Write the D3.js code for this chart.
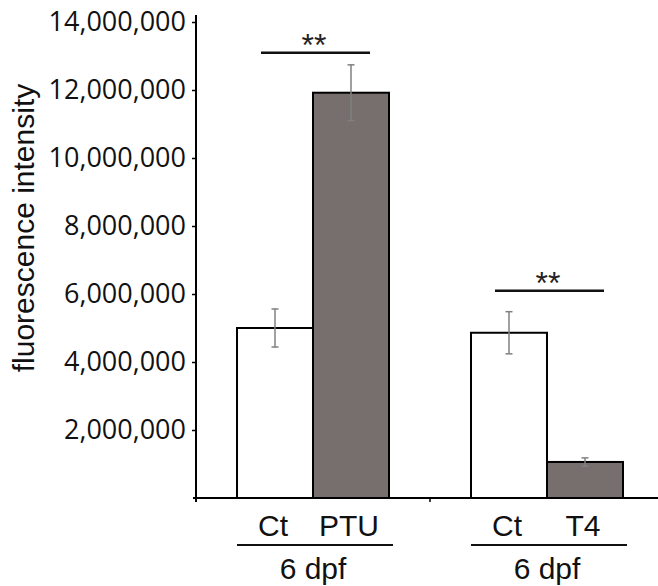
<!DOCTYPE html>
<html>
<head>
<meta charset="utf-8">
<script src="https://cdn.jsdelivr.net/npm/d3@7"></script>
<style>
  html, body { margin: 0; padding: 0; background: #fff; }
  svg { display: block; }
</style>
</head>
<body>
<svg id="chart" width="658" height="586"></svg>
<script>
// Fluorescence intensity at 6 dpf: PTU treatment and T4 treatment vs. controls
const groups = ["6 dpf (PTU)", "6 dpf (T4)"];
const groupLabels = ["6 dpf", "6 dpf"];
const conditions = [["Ct", "PTU"], ["Ct", "T4"]];
const means = [[5000000, 11920000], [4860000, 1060000]];
const errors = [[560000, 820000], [620000, 120000]];
const significance = ["**", "**"];
const yTicks = [2000000, 4000000, 6000000, 8000000, 10000000, 12000000, 14000000];

const svg = d3.select("#chart");

const y = d3.scaleLinear().domain([0, 14000000]).range([498, 22]);
const xGroup = d3.scaleBand().domain(groups).range([196, 664]);
const barW = 76;

const fillColors = ["#ffffff", "#776e6e"];

// y axis
const yAxis = d3.axisLeft(y)
  .tickValues(yTicks)
  .tickFormat(d3.format(","))
  .tickSize(4)
  .tickPadding(6);
const gy = svg.append("g").attr("transform", "translate(196,0)").call(yAxis);
gy.select(".domain").remove();
gy.selectAll(".tick line").attr("stroke", "#000").attr("stroke-width", 1.5);
gy.selectAll(".tick text")
  .attr("font-family", "'Open Sans', 'Noto Sans', sans-serif")
  .attr("font-size", 27)
  .attr("fill", "#111")
  .attr("dy", "0.3em");
svg.append("line")
  .attr("x1", 196).attr("x2", 196)
  .attr("y1", 15).attr("y2", y(0) + 4)
  .attr("stroke", "#000").attr("stroke-width", 2);

// y axis title
svg.append("text")
  .attr("transform", "translate(34," + 228 + ") rotate(-90)")
  .attr("text-anchor", "middle")
  .attr("font-family", "'Liberation Sans', Arial, sans-serif")
  .attr("font-size", 30)
  .attr("fill", "#111")
  .text("fluorescence intensity");

// groups of bars
groups.forEach((g, gi) => {
  const cx = xGroup(g) + xGroup.bandwidth() / 2;
  const xb = d3.scaleBand().domain(conditions[gi]).range([cx - barW, cx + barW]);
  const grp = svg.append("g");

  conditions[gi].forEach((c, ci) => {
    const x0 = xb(c);
    const bc = x0 + xb.bandwidth() / 2;
    const v = means[gi][ci];
    const e = errors[gi][ci];
    grp.append("rect")
      .attr("x", x0).attr("y", y(v))
      .attr("width", xb.bandwidth()).attr("height", y(0) - y(v))
      .attr("fill", fillColors[ci])
      .attr("stroke", "#000").attr("stroke-width", 2);
    // error bar
    grp.append("line")
      .attr("x1", bc).attr("x2", bc)
      .attr("y1", y(v + e)).attr("y2", y(v - e))
      .attr("stroke", "#808080").attr("stroke-width", 1.5);
    [v + e, v - e].forEach(t => {
      grp.append("line")
        .attr("x1", bc - 3.5).attr("x2", bc + 3.5)
        .attr("y1", y(t)).attr("y2", y(t))
        .attr("stroke", "#808080").attr("stroke-width", 1.5);
    });
    // condition label
    grp.append("text")
      .attr("x", bc - 2).attr("y", 536)
      .attr("text-anchor", "middle")
      .attr("font-family", "'Liberation Sans', Arial, sans-serif")
      .attr("font-size", 30)
      .attr("fill", "#111")
      .text(c);
  });

  // significance bracket
  const topVal = d3.max(means[gi].map((m, i) => m + errors[gi][i]));
  const sy = gi === 0 ? y(topVal) - 12 : y(topVal) - 21;
  grp.append("line")
    .attr("x1", cx - 52).attr("x2", cx + 57)
    .attr("y1", sy).attr("y2", sy)
    .attr("stroke", "#111").attr("stroke-width", 2.5);
  grp.append("text")
    .attr("x", cx + 1).attr("y", sy + 3)
    .attr("text-anchor", "middle")
    .attr("font-family", "'Liberation Sans', Arial, sans-serif")
    .attr("font-size", 32)
    .attr("fill", "#222")
    .text(significance[gi]);

  // group underline and label
  grp.append("line")
    .attr("x1", cx - 76).attr("x2", cx + 80)
    .attr("y1", 545).attr("y2", 545)
    .attr("stroke", "#111").attr("stroke-width", 2);
  grp.append("text")
    .attr("x", cx).attr("y", 579)
    .attr("text-anchor", "middle")
    .attr("font-family", "'Liberation Sans', Arial, sans-serif")
    .attr("font-size", 30)
    .attr("fill", "#111")
    .text(groupLabels[gi]);
});

// x axis baseline with group separators
svg.append("line")
  .attr("x1", 193).attr("x2", 658)
  .attr("y1", y(0)).attr("y2", y(0))
  .attr("stroke", "#000").attr("stroke-width", 2);
svg.append("line")
  .attr("x1", xGroup(groups[1])).attr("x2", xGroup(groups[1]))
  .attr("y1", y(0)).attr("y2", y(0) + 4)
  .attr("stroke", "#000").attr("stroke-width", 1.5);
</script>
</body>
</html>
